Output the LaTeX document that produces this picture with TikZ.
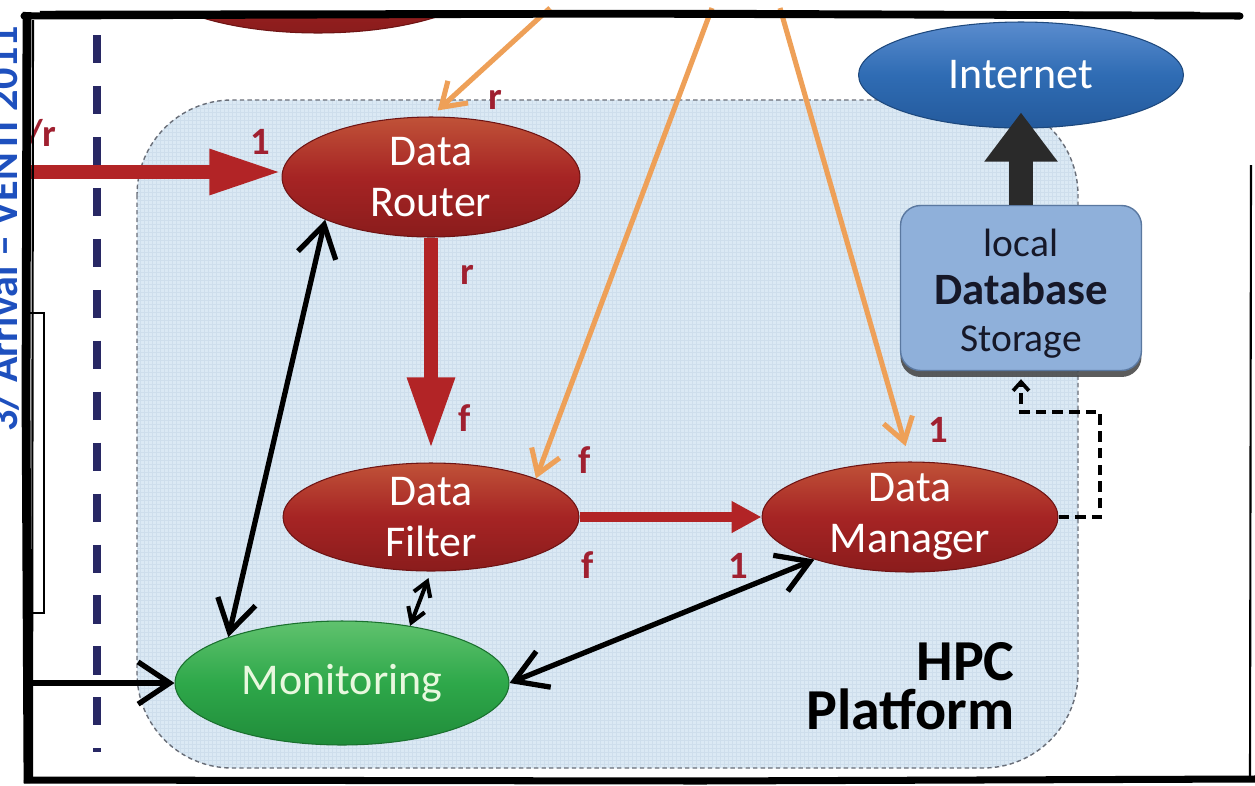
\documentclass[tikz,border=0pt]{standalone}
\usepackage{fontspec}
\setmainfont{Carlito}
\usetikzlibrary{arrows.meta,shapes.geometric,shadows,calc}
\definecolor{hpcfill}{RGB}{219,233,244}
\definecolor{hpcgrid}{RGB}{206,222,236}
\definecolor{hpcline}{RGB}{105,110,120}
\definecolor{redA}{RGB}{166,36,36}
\definecolor{redTop}{RGB}{192,82,56}
\definecolor{redBot}{RGB}{138,28,28}
\definecolor{redEdge}{RGB}{110,20,20}
\definecolor{arrred}{RGB}{178,36,38}
\definecolor{lblred}{RGB}{160,32,48}
\definecolor{orng}{RGB}{238,160,88}
\definecolor{navyd}{RGB}{40,40,100}
\definecolor{grnTop}{RGB}{96,194,110}
\definecolor{grnMid}{RGB}{46,168,74}
\definecolor{grnBot}{RGB}{32,140,58}
\definecolor{bluTop}{RGB}{90,140,206}
\definecolor{bluMid}{RGB}{47,108,180}
\definecolor{bluBot}{RGB}{36,90,156}
\definecolor{dbfill}{RGB}{143,176,218}
\definecolor{dbedge}{RGB}{90,120,160}
\definecolor{dbtext}{RGB}{22,24,40}
\definecolor{sideblue}{RGB}{30,80,190}
\definecolor{montext}{RGB}{232,248,222}
\definecolor{dkarrow}{RGB}{42,42,42}
\tikzset{
  redell/.style={ellipse, draw=redEdge, line width=0.6pt, top color=redTop, bottom color=redBot, middle color=redA, inner sep=0pt},
  grnell/.style={ellipse, draw=grnBot!80!black, line width=0.6pt, top color=grnTop, bottom color=grnBot, middle color=grnMid, inner sep=0pt},
  bluell/.style={ellipse, draw=bluBot!80!black, line width=0.6pt, top color=bluTop, bottom color=bluBot, middle color=bluMid, inner sep=0pt},
  dbbox/.style={rectangle, rounded corners=0.4cm, fill=dbfill, draw=dbedge, line width=0.8pt, inner sep=0pt,
     drop shadow={shadow xshift=0pt, shadow yshift=-0.13cm, fill=black!75, opacity=0.85}},
  ntext/.style={text=white, font=\fontsize{25}{29}\selectfont, align=center, inner sep=0pt},
  lab/.style={text=lblred, font=\bfseries\fontsize{22}{26}\selectfont, inner sep=0pt},
  redarr/.style={draw=arrred},
  org/.style={draw=orng, line width=2.9pt, -{Straight Barb[length=13pt,width=17pt]}},
  blk/.style={draw=black, line width=3pt, {Straight Barb[length=18pt,width=22pt]}-{Straight Barb[length=18pt,width=22pt]}},
  blkone/.style={draw=black, line width=3pt, -{Straight Barb[length=18pt,width=24pt]}},
  blks/.style={draw=black, line width=2.3pt, {Straight Barb[length=8pt,width=10pt]}-{Straight Barb[length=8pt,width=10pt]}},
  dsh/.style={draw=black, line width=2.1pt, dash pattern=on 6pt off 3.5pt, -{Straight Barb[length=5pt,width=9pt]}},
}
\begin{document}
\begin{tikzpicture}[x=0.02cm,y=-0.02cm]
\useasboundingbox (0,0) rectangle (1255,785);
\fill[white] (0,0) rectangle (1255,785);
% side text (cut off)
\begin{scope}
\clip (0,0) rectangle (19,785);
\node[rotate=90, anchor=base west, text=sideblue, font=\bfseries\fontsize{24}{28}\selectfont, inner sep=0pt] (side) at (17,432) {3/ Arrival -- VENTI 2011};
\end{scope}
% HPC region
\begin{scope}
\fill[hpcfill, rounded corners=1.9cm] (137,100) rectangle (1078,768);
\clip[rounded corners=1.9cm] (137,100) rectangle (1078,768);
\draw[hpcgrid, line width=0.25pt, step=0.08cm] (137,100) grid (1078,768);
\end{scope}
\draw[hpcline, line width=0.8pt, dash pattern=on 2.5pt off 1.8pt, rounded corners=1.9cm] (137,100) rectangle (1078,768);
% navy dashed divider
\draw[navyd, line width=4pt, dash pattern=on 16pt off 13pt] (97,35) -- (97,752);
% left partial box
\draw[black, line width=1.3pt] (28,313) rectangle (44,613);
% top partial ellipse
\begin{scope}
\clip (0,16) rectangle (1255,785);
\node[redell, minimum width=6.96cm, minimum height=2.4cm] (topnode) at (318,-27) {};
\end{scope}
% nodes
\node[redell, minimum width=5.96cm, minimum height=2.4cm, label={[ntext]center:{Data\\Router}}] (router) at (431,177) {};
\node[redell, minimum width=5.92cm, minimum height=2.16cm, label={[ntext]center:{Data\\Filter}}] (filter) at (431,517) {};
\node[redell, minimum width=5.92cm, minimum height=2.2cm, label={[ntext]center:{Data\\Manager}}] (manager) at (910,517) {};
\node[grnell, minimum width=6.68cm, minimum height=2.48cm, label={[ntext, text=montext]center:{Monitoring}}] (monitor) at (342,683) {};
\node[bluell, minimum width=6.5cm, minimum height=2.12cm, label={[ntext]center:{Internet}}] (internet) at (1021,75) {};
\node[dbbox, minimum width=4.82cm, minimum height=3.3cm] (db) at (1021,288) {};
\node[align=center, text=dbtext, inner sep=0pt, font=\fontsize{22.5}{27}\selectfont] (dbtxt) at (1021,294)
  {local\\{\bfseries\fontsize{25.5}{27}\selectfont Database}\\Storage};
\node[anchor=south east, align=right, inner sep=0pt, font=\bfseries\fontsize{33}{28}\selectfont] (hpctext) at (1015,730) {HPC\\Platform};
% coordinates for free ends
\coordinate (rin) at (30,172);
\coordinate (mleft) at (30,683);
\coordinate (o1) at (550,8);
\coordinate (o2) at (712,8);
\coordinate (o3) at (780,8);
\coordinate (dc1) at (1100,412);
% red arrows
\draw[redarr, line width=8pt, -{Triangle[length=41pt,width=24pt]}] (rin) -- (rin -| router.west);
\draw[redarr, line width=8.5pt, -{Triangle[length=41pt,width=25pt]}, shorten >=0.26cm] (router.south) -- (filter.north);
\draw[redarr, line width=5.5pt, -{Triangle[length=17pt,width=17pt]}] (filter.east) -- (manager.west);
% orange arrows
\draw[org, shorten >=0.18cm] (o1) -- (router.north);
\draw[org] (o2) -- (filter.north east);
\draw[org, shorten >=0.32cm] (o3) -- (manager.north);
% black arrows
\draw[blk] (router.202) -- (monitor.158);
\draw[blks, shorten <=0.14cm] (filter.south) -- (monitor.40);
\draw[blk] (manager.204) -- (monitor.east);
\draw[blkone] (mleft) -- (monitor.west);
% dashed feedback to database
\draw[dsh, shorten >=0.16cm] (manager.east) -| (dc1) -| (db.south);
% thick arrow to internet
\draw[dkarrow, line width=14pt, -{Triangle[length=28pt,width=40pt]}, shorten >=-0.32cm] (db.north) -- (internet.south);
% labels
\node[lab, anchor=base east] (lr0) at (57,146) {/r};
\node[lab] (l1) at (260,142) {1};
\node[lab] (l2) at (495,100) {r};
\node[lab] (l3) at (467,275) {r};
\node[lab] (l4) at (465,418) {f};
\node[lab] (l5) at (585,460) {f};
\node[lab] (l6) at (588,565) {f};
\node[lab] (l7) at (738,566) {1};
\node[lab] (l8) at (938,430) {1};
% sketchy frame
\draw[black, line width=4pt, line cap=round] (24,16) -- (600,14) -- (1240,16);
\draw[black, line width=1.4pt] (40,12) -- (700,11) -- (1200,13);
\draw[black, line width=5pt] (27,12) -- (26,400) -- (28,783);
\draw[black, line width=1.2pt] (33,20) -- (32,780);
\draw[black, line width=4pt] (24,780) -- (700,781) -- (1255,779);
\draw[black, line width=1.2pt] (1251,165) -- (1250,780);
\end{tikzpicture}
\end{document}
